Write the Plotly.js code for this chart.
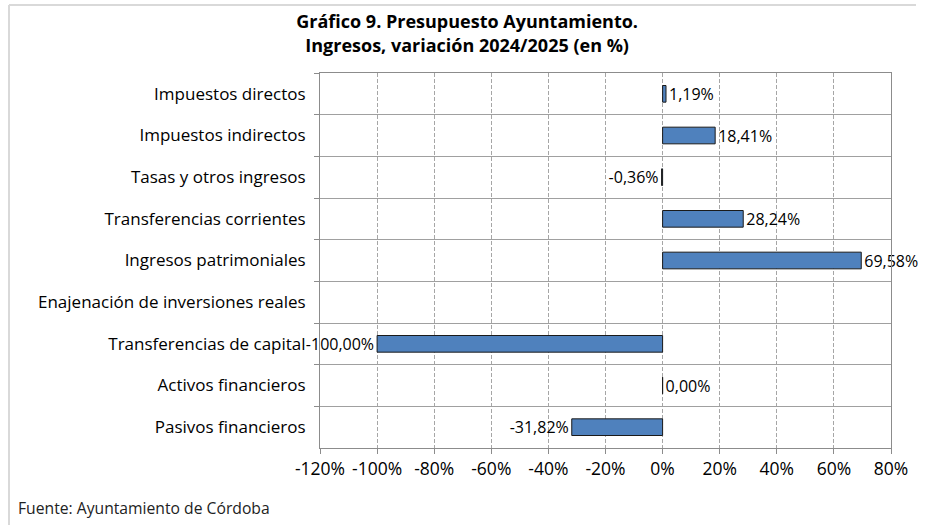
<!DOCTYPE html>
<html>
<head>
<meta charset="utf-8">
<script src="https://cdn.plot.ly/plotly-3.0.1.min.js"></script>
<style>html,body{margin:0;padding:0;background:#fff;}#chart{width:925px;height:525px;}</style>
</head>
<body>
<div id="chart"></div>
<script>
const categories = [
  "Impuestos directos",
  "Impuestos indirectos",
  "Tasas y otros ingresos",
  "Transferencias corrientes",
  "Ingresos patrimoniales",
  "Enajenación de inversiones reales",
  "Transferencias de capital",
  "Activos financieros",
  "Pasivos financieros"
];
const variacion = [1.19, 18.41, -0.36, 28.24, 69.58, null, -100.00, 0.00, -31.82];
const tickValues = [-120, -100, -80, -60, -40, -20, 0, 20, 40, 60, 80];
const tickLabels = ["-120%", "-100%", "-80%", "-60%", "-40%", "-20%", "0%", "20%", "40%", "60%", "80%"];
const titleText = "Gráfico 9. Presupuesto Ayuntamiento.<br>Ingresos, variación 2024/2025 (en %)";
const sourceText = "Fuente: Ayuntamiento de Córdoba";

const FONT = "'Open Sans', sans-serif";

const trace = {
  type: "bar",
  orientation: "h",
  y: categories,
  x: variacion,
  width: 0.4,
  marker: { color: "#4F81BD", line: { color: "#1a1a1a", width: 1 } },
  texttemplate: "%{x:.2f}%",
  textposition: "outside",
  constraintext: "none",
  textfont: { family: FONT, size: 16, color: "#000" },
  cliponaxis: false,
  hoverinfo: "skip"
};

const L = 320, R = 34, T = 73, B = 77;
const PW = 925 - L - R, PH = 525 - T - B;
function px(x) { return (x - L) / PW; }
function py(y) { return 1 - (y - T) / PH; }

const layout = {
  width: 925, height: 525,
  margin: { l: L, r: R, t: T, b: B, pad: 0 },
  paper_bgcolor: "#fff", plot_bgcolor: "#fff",
  separators: ",.",
  showlegend: false,
  font: { family: FONT, size: 17, color: "#000" },
  title: {
    text: titleText,
    font: { family: FONT, size: 18, color: "#000", weight: "bold" },
    x: 0.505, xanchor: "center", y: 0.946, yanchor: "middle"
  },
  xaxis: {
    range: [-120, 80],
    tickmode: "array", tickvals: tickValues, ticktext: tickLabels,
    showgrid: true, gridcolor: "#a6a6a6", griddash: "4px,2px", gridwidth: 1,
    zeroline: false,
    showline: true, linecolor: "#8c8c8c", linewidth: 1, mirror: true,
    ticks: "outside", ticklen: 5, tickcolor: "#8c8c8c",
    tickfont: { family: FONT, size: 17.5, color: "#000" },
    fixedrange: true
  },
  yaxis: {
    type: "category",
    autorange: "reversed",
    tickson: "boundaries",
    showgrid: true, gridcolor: "#a0a0a0", gridwidth: 1,
    showline: true, linecolor: "#8c8c8c", linewidth: 1, mirror: true,
    ticks: "outside", ticklen: 5, tickcolor: "#8c8c8c",
    ticklabelstandoff: 10,
    tickfont: { family: FONT, size: 17, color: "#000" },
    fixedrange: true
  },
  shapes: [
    { type: "line", xref: "paper", yref: "paper", x0: px(9), x1: px(916), y0: py(5), y1: py(5), line: { color: "#d9d9d9", width: 2 } },
    { type: "line", xref: "paper", yref: "paper", x0: px(9), x1: px(9), y0: py(5), y1: py(530), line: { color: "#d9d9d9", width: 2 } }
  ],
  annotations: [
    { text: sourceText, xref: "paper", yref: "paper", x: px(16), y: py(508), xanchor: "left", yanchor: "middle", showarrow: false, font: { family: FONT, size: 15.7, color: "#222" } }
  ]
};

Plotly.newPlot("chart", [trace], layout, { displayModeBar: false, staticPlot: true });
</script>
</body>
</html>
